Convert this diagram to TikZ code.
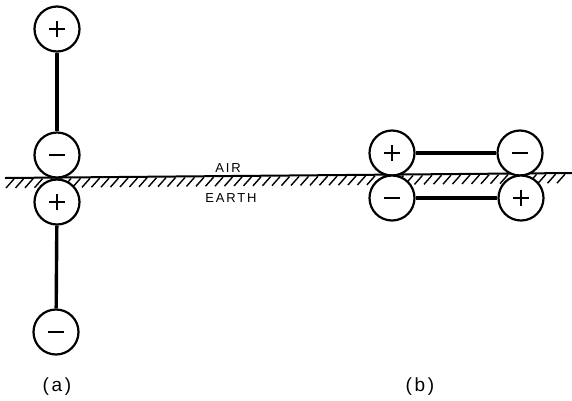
\documentclass[tikz,border=0pt]{standalone}
\usepackage{fontspec}
\newfontfamily\labfont[LetterSpace=14]{Liberation Sans}
\begin{document}
\begin{tikzpicture}[x=1pt,y=-1pt,
  charge/.style={circle,draw,line width=2.2pt,fill=white,minimum size=45pt,inner sep=0pt},
  poscharge/.style={charge,path picture={\draw[line width=2.4pt] ([xshift=-8pt]path picture bounding box.center)--([xshift=8pt]path picture bounding box.center) ([yshift=-8pt]path picture bounding box.center)--([yshift=8pt]path picture bounding box.center);}},
  negcharge/.style={charge,path picture={\draw[line width=2.4pt] ([xshift=-8pt]path picture bounding box.center)--([xshift=8pt]path picture bounding box.center);}},
  rod/.style={line width=3.4pt},
  ground/.style={line width=2pt},
  hatch/.style={line width=1.4pt},
  lab/.style={font=\labfont\fontsize{13}{13}\selectfont,inner sep=0pt},
  caplabel/.style={font=\labfont\fontsize{19}{19}\selectfont,inner sep=0pt}]
\useasboundingbox (0,0) rectangle (572,400);
% ground line and hatching
\coordinate (gl) at (5,178);
\coordinate (gr) at (572,173);
\draw[ground] (gl) -- (gr);
\foreach \x in {6,15.5,...,562} {
  \pgfmathsetmacro{\yy}{178-5*(\x-5)/567}
  \draw[hatch] (\x,\yy+10) -- (\x+8,\yy+1);
}
% labels
\node[lab] (air) at (228,168) {AIR};
\node[lab] (earth) at (231,198) {EARTH};
% (a)
\node[poscharge] (a1) at (57,29) {};
\node[negcharge] (a2) at (57,155) {};
\node[poscharge] (a3) at (57,202) {};
\node[negcharge] (a4) at (56,332) {};
\draw[rod] (a1) -- (a2);
\draw[rod] (a3) -- (a4);
% (b)
\node[poscharge] (b1) at (392,153) {};
\node[negcharge] (b2) at (520,153) {};
\node[negcharge] (b3) at (392,198) {};
\node[poscharge] (b4) at (521,198) {};
\draw[rod] (b1) -- (b2);
\draw[rod] (b3) -- (b4);
% captions
\node[caplabel] (ca) at (57,387) {(a)};
\node[caplabel] (cb) at (420,387) {(b)};
\end{tikzpicture}
\end{document}
